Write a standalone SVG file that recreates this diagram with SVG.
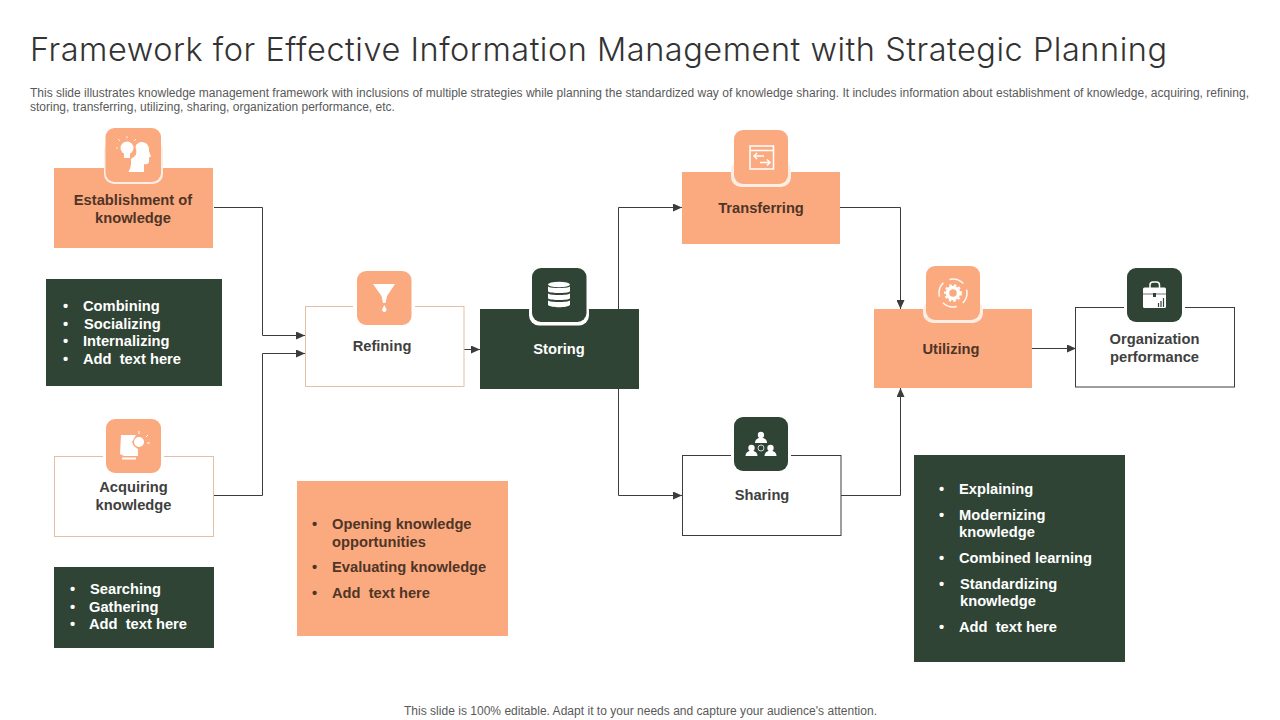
<svg xmlns="http://www.w3.org/2000/svg" width="1280" height="720" viewBox="0 0 1280 720">
<defs>
<marker id="ah" markerUnits="userSpaceOnUse" markerWidth="10" markerHeight="8" refX="9" refY="4" orient="auto"><path d="M0 0L9 4L0 8Z" fill="#3c3c3c"/></marker>
</defs>
<style>
text{font-family:"Liberation Sans",Arial,sans-serif}
.b{font-weight:700;font-size:14.700px;text-anchor:middle}
.l{font-weight:700;font-size:14.700px;white-space:pre}
.d{fill:#404040}.w{fill:#fff}.br{fill:#4f3526}
.or{fill:#fbaa80}.gr{fill:#2f4435}
.c{fill:none;stroke:#3c3c3c;stroke-width:1}
.ic{fill:#fff}.il{fill:none;stroke:#fff;stroke-width:1.500}
.cap{font-size:12px;fill:#595959}
</style>
<rect width="1280" height="720" fill="#fff"/>
<text x="30" y="61" font-size="32.500" font-weight="300" fill="#333" style="font-family:Inter,'Liberation Sans',sans-serif" textLength="1137">Framework for Effective Information Management with Strategic Planning</text>
<text class="cap" x="30" y="97" textLength="1219">This slide illustrates knowledge management framework with inclusions of multiple strategies while planning the standardized way of knowledge sharing. It includes information about establishment of knowledge, acquiring, refining,</text>
<text class="cap" x="30" y="111">storing, transferring, utilizing, sharing, organization performance, etc.</text>
<text class="cap" x="404" y="715" textLength="473">This slide is 100% editable. Adapt it to your needs and capture your audience's attention.</text>

<g id="connectors">
<path class="c" marker-end="url(#ah)" d="M214 207.500H262.500V335.500H305"/>
<path class="c" marker-end="url(#ah)" d="M214 495.500H262.500V353.500H305"/>
<path class="c" marker-end="url(#ah)" d="M464 349.500H480"/>
<path class="c" marker-end="url(#ah)" d="M618.500 309V207.500H682"/>
<path class="c" marker-end="url(#ah)" d="M618.500 389V495.500H682"/>
<path class="c" marker-end="url(#ah)" d="M840 207.500H900.500V309"/>
<path class="c" marker-end="url(#ah)" d="M841 495.500H900.500V388"/>
<path class="c" marker-end="url(#ah)" d="M1032 348.500H1076"/>
</g>

<g id="establishment">
<rect class="or" x="54" y="168" width="159" height="80"/>
<rect x="104" y="140" width="59" height="44" rx="10" fill="#fdeee4"/>
<rect class="or" x="105.500" y="128" width="55.500" height="54" rx="9"/>
<path class="ic" d="M128.500 172C131 167 131.500 163 131 159L135 156C136 155 137 152 136 149C134 144 140 142 141 142C147 142 149.500 146 149 151L151 156.500L149 157.500V161.500C149 164 147 164.500 144 164V172Z"/>
<circle class="ic" cx="127" cy="148" r="6.500"/><rect class="ic" x="124" y="154" width="6" height="4"/>
<path d="M120 141l-2-2M127 138.500v-2.500M134 141l2-2M118 148h-2" stroke="#fff" stroke-width=".8" fill="none"/>
<text class="b br" x="133" y="205">Establishment of</text><text class="b br" x="133" y="223">knowledge</text>
</g>

<g id="refining">
<rect x="305.500" y="306.500" width="158.500" height="80" fill="#fff" stroke="#e5bfa5"/>
<rect x="353" y="300" width="62" height="28" fill="#fff"/>
<rect class="or" x="357" y="271" width="54.500" height="54" rx="9"/>
<path class="ic" d="M373 284H395L387 296L385.500 303H383L381.500 296Z"/><path class="ic" d="M384.300 305l2 4a2.200 2.200 0 1 1-4 0Z"/>
<text class="b d" x="382" y="351">Refining</text>
</g>

<g id="storing">
<rect class="gr" x="480" y="309" width="159" height="80"/>
<rect x="529" y="300" width="60" height="25.500" rx="10" fill="#fff"/>
<rect class="gr" x="532" y="268" width="54.500" height="54" rx="9"/>
<ellipse class="ic" cx="559" cy="284.500" rx="11" ry="2.800"/>
<path class="ic" d="M548 286.500c3 2 19 2 22 0v5c-3 2-19 2-22 0ZM548 293.500c3 2 19 2 22 0v5c-3 2-19 2-22 0ZM548 300.500c3 2 19 2 22 0v4.500c-3 3-19 3-22 0Z"/>
<text class="b w" x="559" y="354">Storing</text>
</g>

<g id="transferring">
<rect class="or" x="682" y="172" width="158" height="72"/>
<rect x="731" y="160" width="60" height="27" rx="10" fill="#fdeee4"/>
<rect class="or" x="734" y="130" width="54" height="54" rx="9"/>
<rect class="il" x="750" y="146" width="23.500" height="23"/><path class="il" d="M750 150.500H773.500"/>
<path class="il" d="M754 156H764M757 153L754 156L757 159M760 162.500H770M767 159.500L770 162.500L767 165.500"/>
<text class="b br" x="761" y="213">Transferring</text>
</g>

<g id="utilizing">
<rect class="or" x="874" y="309" width="158" height="79"/>
<rect x="923" y="300" width="60" height="23" rx="10" fill="#fdeee4"/>
<rect class="or" x="926" y="266" width="54" height="54" rx="9"/>
<circle cx="953" cy="293" r="5.500" fill="none" stroke="#fff" stroke-width="3.500"/>
<circle cx="953" cy="293" r="8" fill="none" stroke="#fff" stroke-width="1.800" stroke-dasharray="2.500 2.300"/>
<circle cx="953" cy="293" r="14" fill="none" stroke="#fff" stroke-width="1.500" stroke-dasharray="15 7" stroke-dashoffset="4" opacity=".9"/>
<text class="b br" x="951" y="354">Utilizing</text>
</g>

<g id="organization">
<rect x="1075.500" y="307.500" width="159" height="79.500" fill="#fff" stroke="#3c3c3c"/>
<rect x="1124" y="300" width="61" height="24" fill="#fff"/>
<rect class="gr" x="1127" y="268" width="55" height="54" rx="9"/>
<path class="il" d="M1150 288v-3c0-2 1-3 3-3h3.500c2 0 3 1 3 3v3"/>
<rect class="ic" x="1143" y="287.500" width="23" height="20.500" rx="1.500"/>
<rect class="gr" x="1153" y="293" width="3" height="4"/><path d="M1143 294h23" stroke="#2f4435" stroke-width=".7"/>
<path d="M1158.500 307v-4M1161 307v-6M1163.500 307v-9" stroke="#2f4435" stroke-width="1.200"/>
<text class="b d" x="1154.500" y="344">Organization</text><text class="b d" x="1154.500" y="362">performance</text>
</g>

<g id="sharing">
<rect x="682.500" y="455.500" width="158.500" height="80" fill="#fff" stroke="#3c3c3c"/>
<rect x="731" y="450" width="60" height="24" fill="#fff"/>
<rect class="gr" x="734" y="417" width="54" height="54" rx="9"/>
<circle class="ic" cx="761" cy="435" r="3.200"/><path class="ic" d="M755 443c0-7 12-7 12 0Z"/>
<circle class="ic" cx="751.500" cy="448" r="3.200"/><path class="ic" d="M745.500 456c0-7 12-7 12 0Z"/>
<circle class="ic" cx="770.500" cy="448" r="3.200"/><path class="ic" d="M764.500 456c0-7 12-7 12 0Z"/>
<circle cx="761" cy="448" r="3" fill="none" stroke="#fff" stroke-width=".8"/>
<text class="b d" x="762" y="500">Sharing</text>
</g>

<g id="acquiring">
<rect x="54.500" y="456.500" width="159" height="80" fill="#fff" stroke="#e5bfa5"/>
<rect x="103" y="450" width="61" height="25" fill="#fff"/>
<rect class="or" x="106" y="419" width="55" height="54" rx="9"/>
<path class="ic" d="M121 435H136L132 442C133 446 136 448 138 449V456H124L120 454Z"/>
<path class="ic" d="M122 457.500H136V459.500H122Z"/>
<circle cx="139" cy="442" r="5" fill="#fff"/><path d="M146 437l2-2M147 443h3M139 434v-3M133 436l-1-1" stroke="#fff" fill="none"/>
<text class="b d" x="133.500" y="492">Acquiring</text><text class="b d" x="133.500" y="510">knowledge</text>
</g>

<g id="list-establishment">
<rect class="gr" x="46" y="279" width="176" height="107"/>
<g class="w"><text class="l" x="63" y="311">•</text><text class="l" x="83" y="311">Combining</text>
<text class="l" x="63" y="329">•</text><text class="l" x="84" y="329">Socializing</text>
<text class="l" x="63" y="346">•</text><text class="l" x="83" y="346">Internalizing</text>
<text class="l" x="63" y="364">•</text><text class="l" x="83" y="364">Add  text here</text></g>
</g>

<g id="list-acquiring">
<rect class="gr" x="54" y="567" width="160" height="81"/>
<g class="w"><text class="l" x="70" y="594">•</text><text class="l" x="90" y="594">Searching</text>
<text class="l" x="70" y="612">•</text><text class="l" x="89" y="612">Gathering</text>
<text class="l" x="70" y="629">•</text><text class="l" x="89" y="629">Add  text here</text></g>
</g>

<g id="list-refining">
<rect class="or" x="297" y="481" width="211" height="155"/>
<g class="br"><text class="l" x="312" y="529">•</text><text class="l" x="332" y="529">Opening knowledge</text><text class="l" x="332" y="547">opportunities</text>
<text class="l" x="312" y="572">•</text><text class="l" x="332" y="572">Evaluating knowledge</text>
<text class="l" x="312" y="598">•</text><text class="l" x="332" y="598">Add  text here</text></g>
</g>

<g id="list-sharing">
<rect class="gr" x="914" y="455" width="211" height="207"/>
<g class="w"><text class="l" x="939" y="494">•</text><text class="l" x="959" y="494">Explaining</text>
<text class="l" x="939" y="520">•</text><text class="l" x="959" y="520">Modernizing</text><text class="l" x="959" y="537">knowledge</text>
<text class="l" x="939" y="563">•</text><text class="l" x="959" y="563">Combined learning</text>
<text class="l" x="939" y="589">•</text><text class="l" x="960" y="589">Standardizing</text><text class="l" x="960" y="606">knowledge</text>
<text class="l" x="939" y="632">•</text><text class="l" x="959" y="632">Add  text here</text></g>
</g>
</svg>
